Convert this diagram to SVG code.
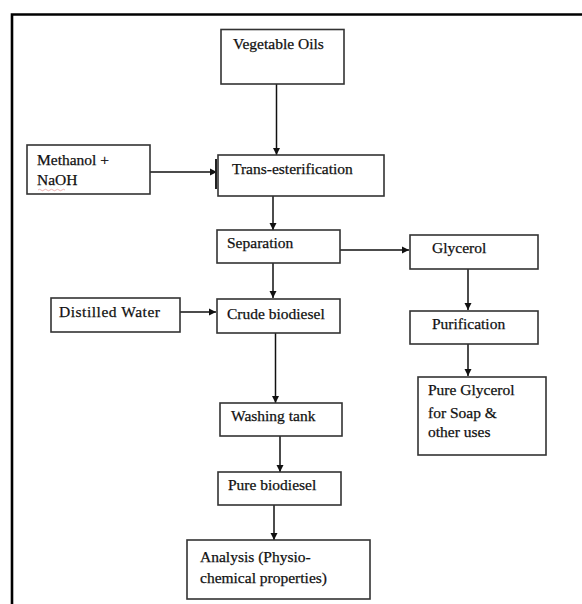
<svg xmlns="http://www.w3.org/2000/svg" width="582" height="604" viewBox="0 0 582 604">
<defs>
<marker id="ah" markerWidth="8" markerHeight="8" refX="7" refY="4" orient="auto" markerUnits="userSpaceOnUse">
<path d="M0,0.5 L7,4 L0,7.5 Z" fill="#111"/>
</marker>
<style>
.box{fill:#fff;stroke:#333;stroke-width:1.6}
.t{font-family:"Liberation Serif","Times New Roman",serif;font-size:15.5px;fill:#111;stroke:#111;stroke-width:0.25}
.c{stroke:#111;stroke-width:1.5;fill:none;marker-end:url(#ah)}
</style>
</defs>
<rect width="582" height="604" fill="#fff"/>
<path d="M12,610 L12,14.5 L590,14.5" fill="none" stroke="#000" stroke-width="2.6"/>
<g id="connectors">
<line class="c" x1="276.5" y1="84" x2="276.5" y2="155"/>
<line class="c" x1="150" y1="172" x2="217" y2="172"/>
<line x1="216" y1="159" x2="216" y2="189" stroke="#222" stroke-width="2"/>
<line class="c" x1="273" y1="196" x2="273" y2="230"/>
<line class="c" x1="340" y1="250" x2="409" y2="250"/>
<line class="c" x1="468" y1="269" x2="468" y2="310"/>
<line class="c" x1="468" y1="344" x2="468" y2="376"/>
<line class="c" x1="273" y1="263" x2="273" y2="298"/>
<line class="c" x1="180" y1="312" x2="216" y2="312"/>
<line class="c" x1="275.5" y1="333" x2="275.5" y2="403"/>
<line class="c" x1="280" y1="436" x2="280" y2="472"/>
<line class="c" x1="274" y1="505" x2="274" y2="540"/>
</g>
<g id="vegetable-oils"><rect class="box" x="221" y="29.5" width="123" height="54.5"/><text class="t" x="233" y="49">Vegetable Oils</text></g>
<g id="methanol"><rect class="box" x="27" y="145" width="123" height="49"/><text class="t" x="37" y="165">Methanol +</text><text class="t" x="37" y="185">NaOH</text><path d="M38,190 q1.5,-1.5 3,0 t3,0 t3,0 t3,0 t3,0 t3,0 t3,0 t3,0 t3,0" fill="none" stroke="#d66" stroke-width="0.7" opacity="0.7"/></g>
<g id="trans-esterification"><rect class="box" x="218" y="155" width="166" height="41"/><text class="t" x="232" y="174">Trans-esterification</text></g>
<g id="separation"><rect class="box" x="217" y="230" width="123" height="33"/><text class="t" x="227" y="248">Separation</text></g>
<g id="glycerol"><rect class="box" x="410" y="235" width="128" height="34"/><text class="t" x="432" y="253">Glycerol</text></g>
<g id="distilled-water"><rect class="box" x="51" y="298" width="129" height="34"/><text class="t" x="59" y="317" textLength="101">Distilled Water</text></g>
<g id="crude-biodiesel"><rect class="box" x="217" y="299" width="123" height="34"/><text class="t" x="227" y="319">Crude biodiesel</text></g>
<g id="purification"><rect class="box" x="410" y="311" width="128" height="33"/><text class="t" x="432" y="329">Purification</text></g>
<g id="pure-glycerol"><rect class="box" x="418" y="377" width="128" height="78"/><text class="t" x="428" y="395">Pure Glycerol</text><text class="t" x="428" y="418">for Soap &amp;</text><text class="t" x="428" y="437">other uses</text></g>
<g id="washing-tank"><rect class="box" x="220" y="403" width="122" height="33"/><text class="t" x="231" y="421">Washing tank</text></g>
<g id="pure-biodiesel"><rect class="box" x="218" y="472" width="123" height="33"/><text class="t" x="228" y="490">Pure biodiesel</text></g>
<g id="analysis"><rect class="box" x="187" y="540" width="183" height="59"/><text class="t" x="200" y="562">Analysis (Physio-</text><text class="t" x="200" y="583">chemical properties)</text></g>
</svg>
